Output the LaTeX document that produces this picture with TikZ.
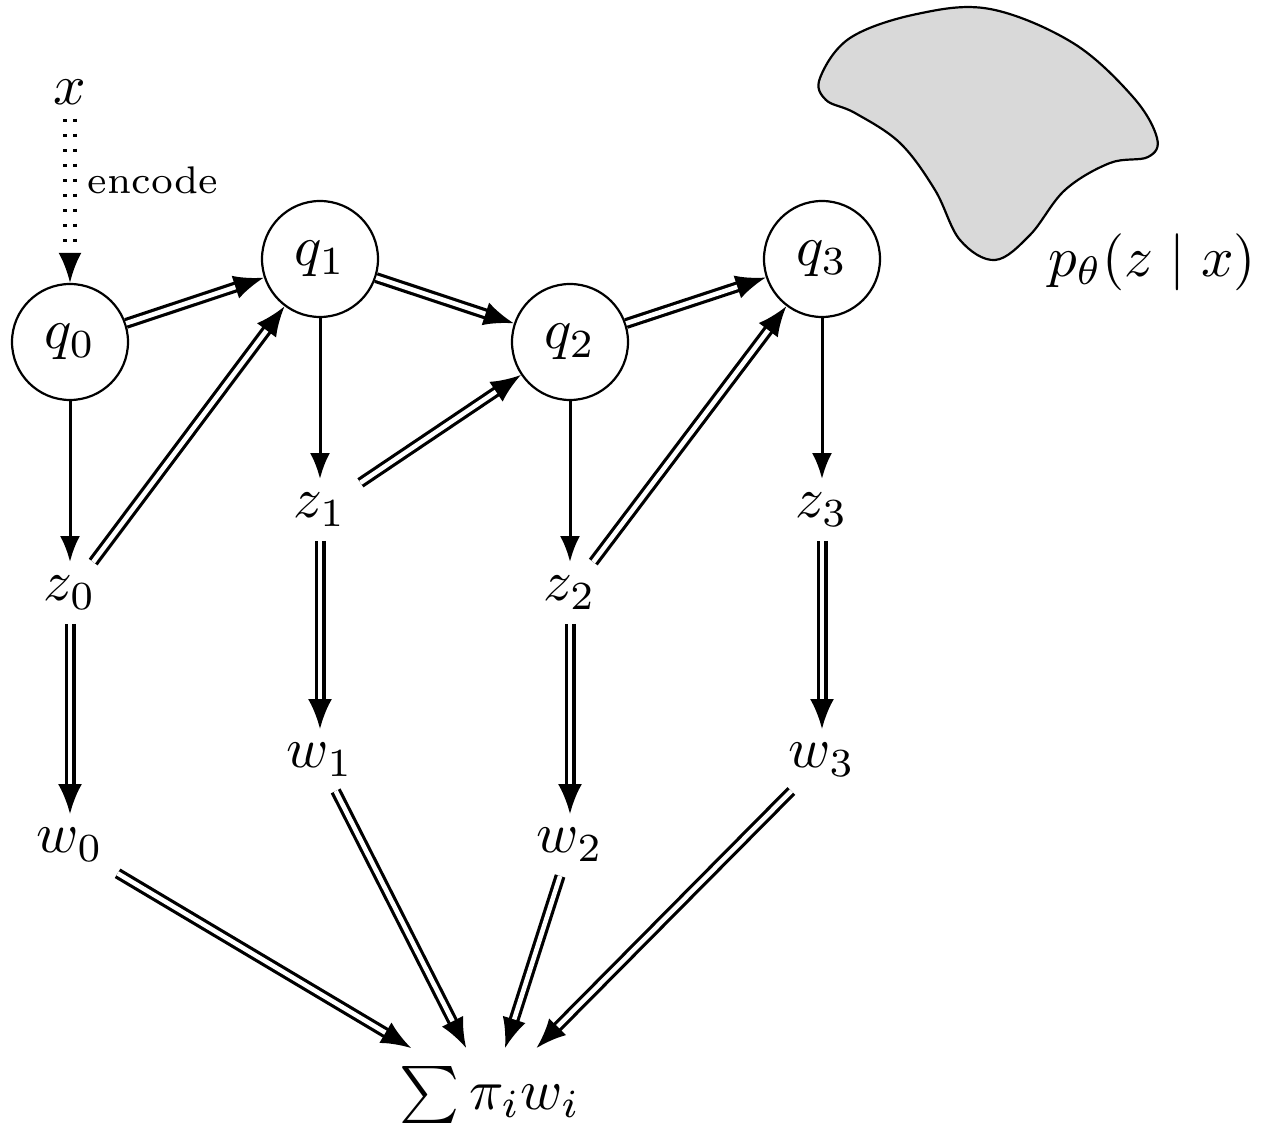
\documentclass[tikz,border=0pt]{standalone}
\usepackage{graphicx}
\usetikzlibrary{arrows.meta}
\newcommand{\sz}[1]{\scalebox{2.85}{#1}}
\begin{document}
\begin{tikzpicture}[x=0.5pt,y=-0.5pt,
  qnode/.style={circle,draw,line width=1.1pt,minimum size=58pt,inner sep=0pt},
  vnode/.style={inner sep=7pt},
  sarr/.style={line width=1.5pt,-{Latex[length=13pt,width=10pt]}},
  darr/.style={line width=1.6pt,double,double distance=2.3pt,-{Latex[length=15pt,width=12pt]}},
  earr/.style={line width=1.7pt,double,double distance=3.4pt,dash pattern=on 1.6pt off 5.9pt,-{Latex[length=15pt,width=11.5pt]}},
  blob/.style={draw,line width=1.1pt,fill=black!15}
]
\useasboundingbox (0,0) rectangle (1266,1138);
% blob
\draw[blob] plot[smooth cycle,tension=0.6] coordinates {
 (820,78) (850,38) (917,14) (990,9) (1073,43) (1133,97) (1157,138)
 (1148,157) (1110,163) (1065,190) (1030,235) (995,260) (960,240)
 (935,190) (900,143) (855,113) (826,100)};
\node[vnode] (pz) at (1152,262) {\sz{$p_\theta(z\mid x)$}};
% nodes
\node[vnode] (x) at (70,92) {\sz{$x$}};
\node[qnode] (q0) at (70,342) {\sz{$q_0$}};
\node[qnode] (q1) at (320,259) {\sz{$q_1$}};
\node[qnode] (q2) at (570,342) {\sz{$q_2$}};
\node[qnode] (q3) at (822,259) {\sz{$q_3$}};
\node[vnode] (z0) at (70,593) {\sz{$z_0$}};
\node[vnode] (z1) at (320,510) {\sz{$z_1$}};
\node[vnode] (z2) at (570,593) {\sz{$z_2$}};
\node[vnode] (z3) at (822,510) {\sz{$z_3$}};
\node[vnode] (w0) at (70,845) {\sz{$w_0$}};
\node[vnode] (w1) at (320,760) {\sz{$w_1$}};
\node[vnode] (w2) at (570,845) {\sz{$w_2$}};
\node[vnode] (w3) at (822,760) {\sz{$w_3$}};
\node[inner sep=9pt] (sum) at (490,1095) {\sz{$\sum \pi_i w_i$}};
\node[inner sep=0pt] (enc) at (153,180) {\scalebox{2.75}{\scriptsize encode}};
% connectors
\draw[earr] (x) -- (q0);
\draw[darr] (q0) -- (q1);
\draw[darr] (q1) -- (q2);
\draw[darr] (q2) -- (q3);
\draw[sarr] (q0) -- (z0);
\draw[sarr] (q1) -- (z1);
\draw[sarr] (q2) -- (z2);
\draw[sarr] (q3) -- (z3);
\draw[darr] (z0) -- (q1);
\draw[darr] (z1) -- (q2);
\draw[darr] (z2) -- (q3);
\draw[darr] (z0) -- (w0);
\draw[darr] (z1) -- (w1);
\draw[darr] (z2) -- (w2);
\draw[darr] (z3) -- (w3);
\draw[darr] (w0) -- (sum);
\draw[darr] (w1) -- (sum);
\draw[darr] (w2) -- (sum);
\draw[darr] (w3) -- (sum);
\end{tikzpicture}
\end{document}
